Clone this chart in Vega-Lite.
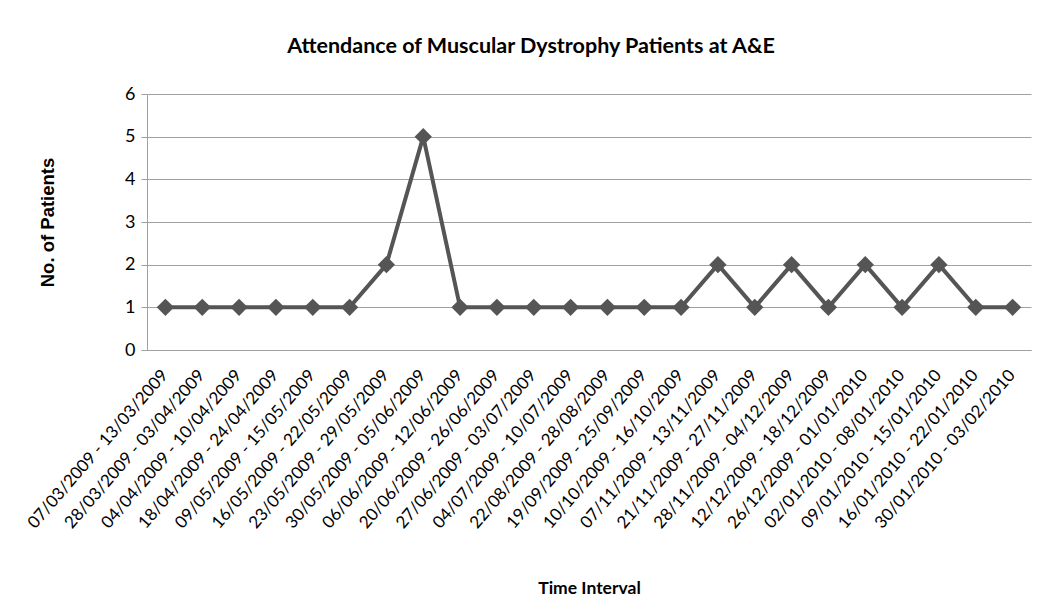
{
  "$schema": "https://vega.github.io/schema/vega-lite/v6.json",
  "autosize": {"type": "none"},
  "width": 884,
  "height": 256,
  "padding": {"left": 147, "top": 94, "right": 22, "bottom": 256},
  "background": "white",
  "title": {
    "text": "Attendance of Muscular Dystrophy Patients at A&E",
    "anchor": "middle",
    "frame": "group",
    "dx": -58,
    "offset": 28,
    "font": "Lato",
    "fontSize": 21.5,
    "fontWeight": "bold",
    "color": "#000000"
  },
  "data": {
    "values": [
      {"interval": "07/03/2009 - 13/03/2009", "patients": 1},
      {"interval": "28/03/2009 - 03/04/2009", "patients": 1},
      {"interval": "04/04/2009 - 10/04/2009", "patients": 1},
      {"interval": "18/04/2009 - 24/04/2009", "patients": 1},
      {"interval": "09/05/2009 - 15/05/2009", "patients": 1},
      {"interval": "16/05/2009 - 22/05/2009", "patients": 1},
      {"interval": "23/05/2009 - 29/05/2009", "patients": 2},
      {"interval": "30/05/2009 - 05/06/2009", "patients": 5},
      {"interval": "06/06/2009 - 12/06/2009", "patients": 1},
      {"interval": "20/06/2009 - 26/06/2009", "patients": 1},
      {"interval": "27/06/2009 - 03/07/2009", "patients": 1},
      {"interval": "04/07/2009 - 10/07/2009", "patients": 1},
      {"interval": "22/08/2009 - 28/08/2009", "patients": 1},
      {"interval": "19/09/2009 - 25/09/2009", "patients": 1},
      {"interval": "10/10/2009 - 16/10/2009", "patients": 1},
      {"interval": "07/11/2009 - 13/11/2009", "patients": 2},
      {"interval": "21/11/2009 - 27/11/2009", "patients": 1},
      {"interval": "28/11/2009 - 04/12/2009", "patients": 2},
      {"interval": "12/12/2009 - 18/12/2009", "patients": 1},
      {"interval": "26/12/2009 - 01/01/2010", "patients": 2},
      {"interval": "02/01/2010 - 08/01/2010", "patients": 1},
      {"interval": "09/01/2010 - 15/01/2010", "patients": 2},
      {"interval": "16/01/2010 - 22/01/2010", "patients": 1},
      {"interval": "30/01/2010 - 03/02/2010", "patients": 1}
    ]
  },
  "encoding": {
    "x": {
      "field": "interval",
      "type": "nominal",
      "sort": null,
      "scale": {"paddingInner": 1, "paddingOuter": 0.5},
      "axis": {
        "title": "Time Interval",
        "titleFont": "Lato",
        "titleFontSize": 17.5,
        "titleFontWeight": "bold",
        "titleColor": "#000000",
        "titleX": 442,
        "titleY": 238,
        "titleBaseline": "middle",
        "labelAngle": -49,
        "labelAlign": "right",
        "labelBaseline": "middle",
        "labelFont": "Lato",
        "labelFontSize": 17,
        "labelLimit": 0,
        "labelColor": "#000000",
        "labelPadding": 22,
        "labelOffset": -1,
        "ticks": false,
        "domainColor": "#a0a0a0",
        "grid": false
      }
    },
    "y": {
      "field": "patients",
      "type": "quantitative",
      "scale": {"domain": [0, 6], "nice": false},
      "axis": {
        "title": "No. of Patients",
        "titleFont": "Liberation Sans",
        "titleFontSize": 18.5,
        "titleFontWeight": "bold",
        "titleColor": "#000000",
        "titleAngle": -90,
        "titleX": -100,
        "titleY": 128,
        "titleAlign": "center",
        "titleBaseline": "middle",
        "values": [0, 1, 2, 3, 4, 5, 6],
        "labelFont": "Lato",
        "labelFontSize": 18,
        "labelColor": "#000000",
        "labelPadding": 6,
        "tickSize": 6,
        "tickColor": "#a0a0a0",
        "domainColor": "#a0a0a0",
        "grid": true,
        "gridColor": "#a0a0a0",
        "gridWidth": 1
      }
    }
  },
  "layer": [
    {"mark": {"type": "line", "color": "#555555", "strokeWidth": 4}},
    {"mark": {"type": "point", "shape": "diamond", "filled": true, "opacity": 1, "color": "#555555", "size": 300}}
  ],
  "config": {"view": {"stroke": null}}
}
